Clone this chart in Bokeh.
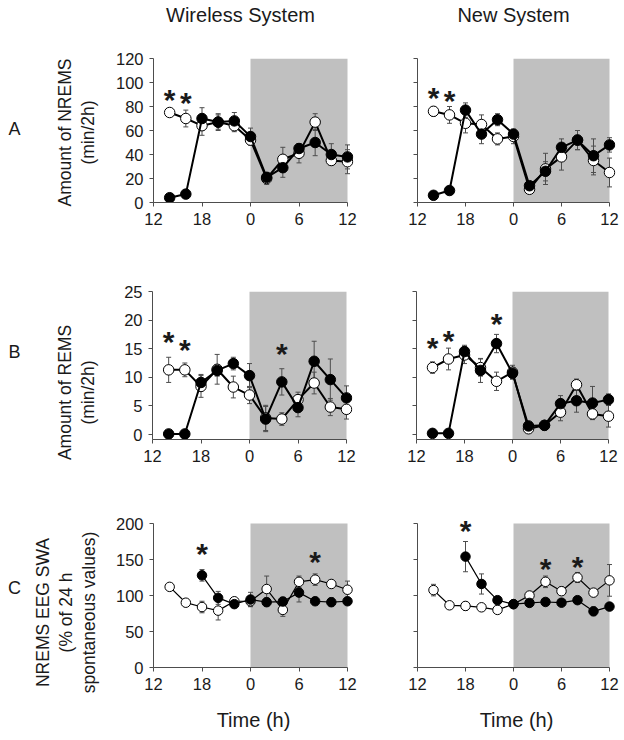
from bokeh.plotting import figure
from bokeh.layouts import row, column
from bokeh.models import Range1d, Whisker, TeeHead, ColumnDataSource, FixedTicker
from bokeh.core.properties import value
from bokeh.embed import file_html
from bokeh.resources import INLINE
import math

# ---------------- data ----------------
hours = [14, 16, 18, 20, 22, 24, 26, 28, 30, 32, 34, 36]
swa_fill_hours = [18, 20, 22, 24, 26, 28, 30, 32, 34, 36]
x_tick_values = [12, 18, 24, 30, 36]
x_tick_labels = ["12", "18", "0", "6", "12"]
dark_start, dark_end = 24, 36

column_titles = ["Wireless System", "New System"]
row_letters = ["A", "B", "C"]
row_ylabels = ["Amount of NREMS\n(min/2h)",
               "Amount of REMS\n(min/2h)",
               "NREMS EEG SWA\n(% of 24 h\nspontaneous values)"]
x_title = "Time (h)"

nrem_ticks = [0, 20, 40, 60, 80, 100, 120]
rem_ticks = [0, 5, 10, 15, 20, 25]
swa_ticks = [0, 50, 100, 150, 200]

# A: amount of NREMS
wl_nrem_fill = [4, 7, 70, 67, 68, 55, 21, 29, 45, 50, 40, 38]
wl_nrem_fill_err = [1, 2, 9, 7, 7, 7, 4, 8, 4, 11, 9, 10]
wl_nrem_open = [75, 70, 64, 67, 64, 52, 20, 36, 41, 67, 35, 34]
wl_nrem_open_err = [3, 7, 8, 6, 5, 4, 5, 10, 8, 7, 4, 10]
wl_nrem_star_x = [14, 16]
wl_nrem_star_y = [92, 89]

nw_nrem_fill = [6, 10, 77, 57, 69, 57, 14, 26, 46, 52, 39, 48]
nw_nrem_fill_err = [2, 2, 6, 8, 5, 4, 3, 8, 7, 8, 14, 6]
nw_nrem_open = [76, 73, 66, 65, 53, 55, 11, 28, 38, 52, 35, 25]
nw_nrem_open_err = [4, 7, 8, 8, 5, 6, 3, 13, 11, 8, 12, 12]
nw_nrem_star_x = [14, 16]
nw_nrem_star_y = [93, 91]

# B: amount of REMS
wl_rem_fill = [0.1, 0.1, 9.1, 11.2, 12.4, 10.3, 2.7, 9.2, 4.7, 12.8, 9.6, 6.4]
wl_rem_fill_err = [0, 0, 1.4, 1.0, 1.1, 2.1, 2.2, 2.3, 1.6, 3.5, 3.6, 2.1]
wl_rem_open = [11.3, 11.3, 8.4, 11.4, 8.3, 6.9, 2.9, 2.7, 6.1, 9.0, 4.8, 4.4]
wl_rem_open_err = [2.2, 1.2, 1.9, 2.6, 1.9, 1.5, 2.2, 1.1, 1.3, 1.9, 1.5, 1.7]
wl_rem_star_x = [14, 16, 28]
wl_rem_star_y = [17.4, 16.1, 15.3]

nw_rem_fill = [0.2, 0.2, 14.5, 11.2, 15.9, 10.7, 1.5, 1.6, 5.4, 5.9, 5.5, 6.1]
nw_rem_fill_err = [0, 0, 1.1, 2.1, 1.6, 1.0, 0.5, 0.5, 1.4, 2.0, 2.9, 1.0]
nw_rem_open = [11.7, 13.2, 13.9, 11.7, 9.3, 10.9, 1.0, 1.6, 3.9, 8.7, 3.6, 3.2]
nw_rem_open_err = [1.0, 1.9, 1.5, 1.5, 1.6, 1.2, 0.5, 0.5, 1.5, 1.0, 0.9, 1.9]
nw_rem_star_x = [14, 16, 22]
nw_rem_star_y = [16.5, 17.6, 20.6]

# C: NREMS EEG SWA
wl_swa_fill = [128, 96.7, 88, 94.4, 90.7, 91.6, 104, 92, 90.7, 92]
wl_swa_fill_err = [8, 9, 3, 10, 6, 6, 13, 5, 6, 5]
wl_swa_open = [112, 90, 84, 79, 92, 92, 109, 80, 119, 122, 116, 108]
wl_swa_open_err = [4, 4, 8, 13, 4, 7, 18, 9, 8, 8, 5, 12]
wl_swa_star_x = [18, 32]
wl_swa_star_y = [168, 157]

nw_swa_fill = [154, 116, 93.5, 88, 89.7, 91, 90, 93.5, 78, 84.6]
nw_swa_fill_err = [21, 14, 5, 3, 3, 3, 4, 4, 6, 4]
nw_swa_open = [107.5, 86.4, 85.5, 83.6, 80, 88, 100, 119, 106, 125, 104, 121]
nw_swa_open_err = [8, 3, 6, 3, 3, 3, 3, 8, 6, 7, 5, 22]
nw_swa_star_x = [18, 28, 32]
nw_swa_star_y = [199.5, 147, 150]

# ---------------- styling / layout ----------------
FONT = "Liberation Sans"
INK = "#1a1a1a"
AXIS = "#4d4d4d"
ERR = "#4d4d4d"
SHADE = "#c0c0c0"

HEADER_H = 38
SIDE_W = 112
PXH = [194 / 24, 192 / 24]
FRAME_W = [200, 198]
BORDER_L = [40, 36]
BORDER_R = [28, 6]
PAGE_W = SIDE_W + sum(FRAME_W) + sum(BORDER_L) + sum(BORDER_R)

rows_cfg = [
    dict(ticks=nrem_ticks, px_unit=144 / 120, frame_h=144, top=20, bottom=40, lw=2.0, size=10.5),
    dict(ticks=rem_ticks, px_unit=143 / 25, frame_h=148, top=49, bottom=38, lw=2.0, size=10.5),
    dict(ticks=swa_ticks, px_unit=144 / 200, frame_h=155, top=35, bottom=65, lw=1.2, size=9.5),
]

panels = [
    [dict(fill_x=hours, fill=wl_nrem_fill, fill_err=wl_nrem_fill_err, open=wl_nrem_open, open_err=wl_nrem_open_err,
          sx=wl_nrem_star_x, sy=wl_nrem_star_y),
     dict(fill_x=hours, fill=nw_nrem_fill, fill_err=nw_nrem_fill_err, open=nw_nrem_open, open_err=nw_nrem_open_err,
          sx=nw_nrem_star_x, sy=nw_nrem_star_y)],
    [dict(fill_x=hours, fill=wl_rem_fill, fill_err=wl_rem_fill_err, open=wl_rem_open, open_err=wl_rem_open_err,
          sx=wl_rem_star_x, sy=wl_rem_star_y),
     dict(fill_x=hours, fill=nw_rem_fill, fill_err=nw_rem_fill_err, open=nw_rem_open, open_err=nw_rem_open_err,
          sx=nw_rem_star_x, sy=nw_rem_star_y)],
    [dict(fill_x=swa_fill_hours, fill=wl_swa_fill, fill_err=wl_swa_fill_err, open=wl_swa_open, open_err=wl_swa_open_err,
          sx=wl_swa_star_x, sy=wl_swa_star_y),
     dict(fill_x=swa_fill_hours, fill=nw_swa_fill, fill_err=nw_swa_fill_err, open=nw_swa_open, open_err=nw_swa_open_err,
          sx=nw_swa_star_x, sy=nw_swa_star_y)],
]

# text anchor positions (pixels from the strip's top-left)
coltitle_px = [(240, 14), (513, 14)]
letter_px = [(14, 70), (14, 60), (14, 75)]
ytitle_px = [(75.5, 74), (76, 101), (65.5, 100)]


def blank_fig(w, h):
    p = figure(frame_width=w, frame_height=h, x_range=Range1d(0, w), y_range=Range1d(0, h),
               min_border_left=0, min_border_right=0, min_border_top=0, min_border_bottom=0,
               x_axis_location=None, y_axis_location=None,
               output_backend="svg", toolbar_location=None, tools="")
    p.grid.visible = False
    p.outline_line_color = None
    p.background_fill_color = "white"
    p.border_fill_color = "white"
    return p


def header():
    p = blank_fig(PAGE_W, HEADER_H)
    p.text(x=[c[0] for c in coltitle_px], y=[HEADER_H - c[1] for c in coltitle_px], text=column_titles,
           text_font=value(FONT), text_font_size="20px", text_color=INK,
           text_align="center", text_baseline="middle")
    return p


def side(r):
    cfg = rows_cfg[r]
    h = cfg["top"] + cfg["frame_h"] + cfg["bottom"]
    p = blank_fig(SIDE_W, h)
    lx, ly = letter_px[r]
    p.text(x=[lx], y=[h - ly], text=[row_letters[r]], text_font=value(FONT), text_font_size="18px",
           text_color=INK, text_align="center", text_baseline="middle")
    tx, ty = ytitle_px[r]
    p.text(x=[tx], y=[h - ty], text=[row_ylabels[r]], angle=math.pi / 2, text_font=value(FONT),
           text_font_size="17.5px", text_color=INK, text_align="center", text_baseline="middle",
           text_line_height=1.15)
    return p


def whisker(src):
    return Whisker(source=src, base="x", upper="hi", lower="lo", dimension="height",
                   line_color=ERR, line_width=1, level="underlay",
                   upper_head=TeeHead(size=5, line_color=ERR, line_width=1),
                   lower_head=TeeHead(size=5, line_color=ERR, line_width=1))


def make_panel(r, c):
    cfg = rows_cfg[r]
    d = panels[r][c]
    ticks = cfg["ticks"]
    top_tick = ticks[-1]
    frame_h = cfg["frame_h"]
    span = frame_h / cfg["px_unit"]
    if r == 1:
        y0, y1 = top_tick - span, top_tick
    else:
        y0, y1 = 0, span
    p = figure(frame_width=FRAME_W[c], frame_height=frame_h,
               x_range=Range1d(12, 12 + FRAME_W[c] / PXH[c]),
               y_range=Range1d(y0, y1),
               min_border_left=BORDER_L[c], min_border_right=BORDER_R[c],
               min_border_top=cfg["top"], min_border_bottom=cfg["bottom"],
               output_backend="svg", toolbar_location=None, tools="")
    p.grid.visible = False
    p.outline_line_color = None
    p.background_fill_color = "white"
    p.border_fill_color = "white"

    xa = p.xaxis[0]
    xa.ticker = FixedTicker(ticks=x_tick_values, minor_ticks=[])
    xa.major_label_overrides = {t: l for t, l in zip(x_tick_values, x_tick_labels)}
    xa.bounds = (x_tick_values[0], x_tick_values[-1])
    ya = p.yaxis[0]
    ya.ticker = FixedTicker(ticks=ticks, minor_ticks=[])
    ya.bounds = (y0, top_tick)
    if c == 1:
        ya.major_label_overrides = {t: "" for t in ticks}
    for ax in (xa, ya):
        ax.axis_line_color = AXIS
        ax.axis_line_width = 1
        ax.major_tick_line_color = AXIS
        ax.major_tick_in = 0
        ax.major_tick_out = 4
        ax.minor_tick_line_color = None
        ax.major_label_text_font = FONT
        ax.major_label_text_font_size = "16.5px"
        ax.major_label_text_color = INK
        ax.major_label_standoff = 6
    if r == 2:
        xa.axis_label = x_title
        xa.axis_label_text_font = FONT
        xa.axis_label_text_font_size = "20px"
        xa.axis_label_text_font_style = "normal"
        xa.axis_label_text_color = INK
        xa.axis_label_standoff = 16

    p.quad(left=[dark_start], right=[dark_end], bottom=[y0], top=[top_tick],
           fill_color=SHADE, line_color=None, level="image")

    osrc = ColumnDataSource(dict(x=hours, y=d["open"],
                                 lo=[v - e for v, e in zip(d["open"], d["open_err"])],
                                 hi=[v + e for v, e in zip(d["open"], d["open_err"])]))
    fsrc = ColumnDataSource(dict(x=d["fill_x"], y=d["fill"],
                                 lo=[v - e for v, e in zip(d["fill"], d["fill_err"])],
                                 hi=[v + e for v, e in zip(d["fill"], d["fill_err"])]))
    p.add_layout(whisker(osrc))
    p.add_layout(whisker(fsrc))

    lw = cfg["lw"]
    sz = cfg["size"]
    p.line("x", "y", source=osrc, line_color="black", line_width=lw)
    p.scatter("x", "y", source=osrc, marker="circle", size=sz, fill_color="white",
              line_color="black", line_width=1)
    p.line("x", "y", source=fsrc, line_color="black", line_width=lw)
    p.scatter("x", "y", source=fsrc, marker="circle", size=sz, fill_color="black",
              line_color="black", line_width=1)

    p.text(x=d["sx"], y=d["sy"], text=["*"] * len(d["sx"]), text_font=value(FONT),
           text_font_size="30px", text_font_style="bold", text_align="center",
           text_baseline="middle", y_offset=7, text_color=INK)
    return p


page = column(header(), *[row(side(r), make_panel(r, 0), make_panel(r, 1)) for r in range(3)])

open("out.html", "w").write(file_html(page, INLINE))
